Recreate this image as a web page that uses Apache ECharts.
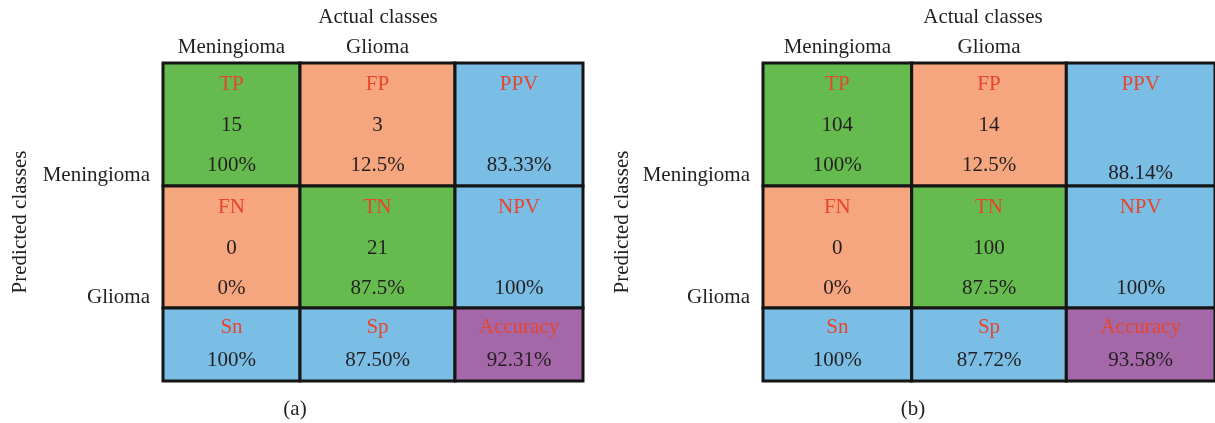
<!DOCTYPE html>
<html>
<head>
<meta charset="utf-8">
<script src="https://cdn.jsdelivr.net/npm/echarts@6/dist/echarts.min.js"></script>
<style>
  html, body { margin: 0; padding: 0; background: #fff; }
  #chart { width: 1215px; height: 423px; }
</style>
</head>
<body>
<div id="chart"></div>
<script>
  // data
  const classNames = ["Meningioma", "Glioma"];
  const cellNames = [["TP", "FP", "PPV"], ["FN", "TN", "NPV"], ["Sn", "Sp", "Accuracy"]];
  const countsA = [[15, 3, null], [0, 21, null], [null, null, null]];
  const ratesA = [["100%", "12.5%", "83.33%"], ["0%", "87.5%", "100%"], ["100%", "87.50%", "92.31%"]];
  const countsB = [[104, 14, null], [0, 100, null], [null, null, null]];
  const ratesB = [["100%", "12.5%", "88.14%"], ["0%", "87.5%", "100%"], ["100%", "87.72%", "93.58%"]];
  const panelTags = ["(a)", "(b)"];

  // layout / style
  const font = "Liberation Serif";
  const fs = 21;
  const cellColors = {
    TP: "#66bb4f", TN: "#66bb4f",
    FP: "#f6a67e", FN: "#f6a67e",
    PPV: "#7abde5", NPV: "#7abde5", Sn: "#7abde5", Sp: "#7abde5",
    Accuracy: "#a468a9"
  };
  const rowEdges = [0, 123, 245, 318];
  const colEdgesA = [0, 137, 292, 420];
  const colEdgesB = [0, 150, 306, 456];

  let chart = echarts.init(document.getElementById("chart"));

  function cellData() {
    let out = [];
    for (let r = 0; r < 3; r++) {
      for (let c = 0; c < 3; c++) out.push([c, r]);
    }
    return out;
  }

  function makeRender(colEdges, counts, rates, ppvDrop) {
    return function (params, api) {
      let c = api.value(0), r = api.value(1);
      let p0 = api.coord([colEdges[c], rowEdges[r]]);
      let p1 = api.coord([colEdges[c + 1], rowEdges[r + 1]]);
      let x0 = p0[0], y0 = p0[1], w = p1[0] - p0[0], h = p1[1] - p0[1];
      let cx = x0 + w / 2;
      let name = cellNames[r][c];
      let kids = [{
        type: "rect",
        shape: { x: x0, y: y0, width: w, height: h },
        style: { fill: cellColors[name], stroke: "#151515", lineWidth: 3 }
      }];
      let txt = (s, y, color) => ({
        type: "text",
        style: { text: s, x: cx, y: y, align: "center", verticalAlign: "middle",
                 font: fs + "px '" + font + "'", fill: color }
      });
      if (r < 2) {
        kids.push(txt(name, y0 + 21, "#e8452c"));
        if (counts[r][c] !== null) kids.push(txt(String(counts[r][c]), y0 + 62, "#231f20"));
        let dy = (r === 0 && c === 2) ? 102 + ppvDrop : 102;
        kids.push(txt(rates[r][c], y0 + dy, "#231f20"));
      } else {
        kids.push(txt(name, y0 + 19, "#e8452c"));
        kids.push(txt(rates[r][c], y0 + 52, "#231f20"));
      }
      // column headers above the first row
      if (r === 0 && c < 2) {
        kids.push(txt(classNames[c], y0 - 16, "#231f20"));
      }
      // row labels left of the first column
      if (c === 0 && r < 2) {
        kids.push({
          type: "text",
          style: { text: classNames[r], x: x0 - 13, y: y0 + h - 11, align: "right",
                   verticalAlign: "middle", font: fs + "px '" + font + "'", fill: "#231f20" }
        });
      }
      return { type: "group", children: kids };
    };
  }

  function hiddenX(idx, max) {
    return {
      type: "value", gridIndex: idx, min: 0, max: max,
      axisLine: { show: false }, axisTick: { show: false },
      axisLabel: { show: false }, splitLine: { show: false }
    };
  }
  function hiddenY(idx, gap) {
    return {
      type: "value", gridIndex: idx, min: 0, max: rowEdges[3], inverse: true,
      name: "Predicted classes", nameLocation: "middle", nameGap: gap, nameRotate: 90,
      nameTextStyle: { fontFamily: font, fontSize: fs, color: "#231f20" },
      axisLine: { show: false }, axisTick: { show: false },
      axisLabel: { show: false }, splitLine: { show: false }
    };
  }

  let option = {
    animation: false,
    textStyle: { fontFamily: font },
    grid: [
      { left: 163, top: 63, width: 420, height: 318 },
      { left: 763, top: 63, width: 456, height: 318 }
    ],
    xAxis: [hiddenX(0, colEdgesA[3]), hiddenX(1, colEdgesB[3])],
    yAxis: [hiddenY(0, 132), hiddenY(1, 130)],
    graphic: [
      { type: "text", x: 378, y: 17, style: { text: "Actual classes", align: "center", verticalAlign: "middle", font: fs + "px '" + font + "'", fill: "#231f20" } },
      { type: "text", x: 983, y: 17, style: { text: "Actual classes", align: "center", verticalAlign: "middle", font: fs + "px '" + font + "'", fill: "#231f20" } },
      { type: "text", x: 295, y: 409, style: { text: panelTags[0], align: "center", verticalAlign: "middle", font: fs + "px '" + font + "'", fill: "#231f20" } },
      { type: "text", x: 913, y: 409, style: { text: panelTags[1], align: "center", verticalAlign: "middle", font: fs + "px '" + font + "'", fill: "#231f20" } }
    ],
    series: [
      {
        type: "custom", xAxisIndex: 0, yAxisIndex: 0, clip: false,
        renderItem: makeRender(colEdgesA, countsA, ratesA, 0),
        data: cellData()
      },
      {
        type: "custom", xAxisIndex: 1, yAxisIndex: 1, clip: false,
        renderItem: makeRender(colEdgesB, countsB, ratesB, 8),
        data: cellData()
      }
    ]
  };
  chart.setOption(option, true);
</script>
</body>
</html>
